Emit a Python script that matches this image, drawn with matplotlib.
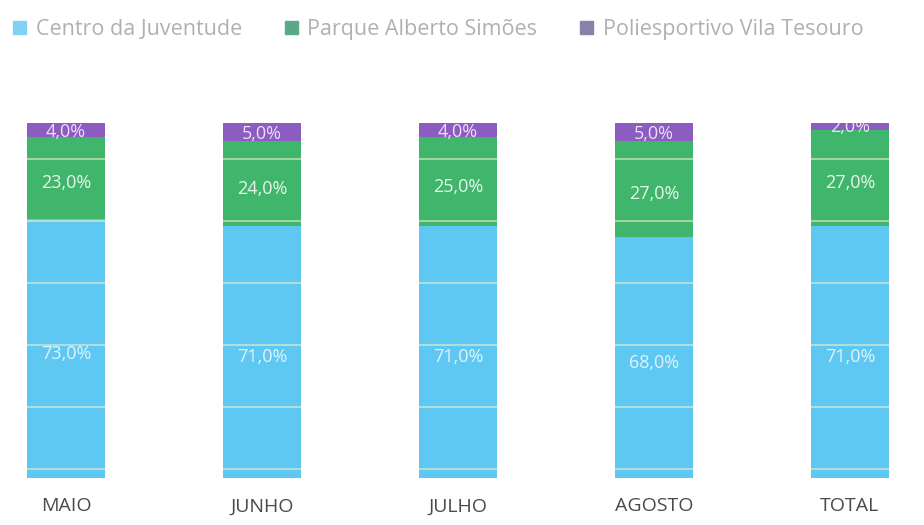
import numpy as np
import matplotlib.pyplot as plt
from matplotlib.patches import Patch

months = ["MAIO", "JUNHO", "JULHO", "AGOSTO", "TOTAL"]
series_names = ["Centro da Juventude", "Parque Alberto Simões", "Poliesportivo Vila Tesouro"]
centro = [73.0, 71.0, 71.0, 68.0, 71.0]
parque = [23.0, 24.0, 25.0, 27.0, 27.0]
poli = [4.0, 5.0, 4.0, 5.0, 2.0]

colors = ["#5ec8f3", "#3fb66c", "#8d5cc0"]
legend_colors = ["#7fd2f3", "#5aa886", "#8682a8"]
label_colors = ["#dff3fb", "#e6f6ea", "#e9e0f5"]


def fmt(v):
    return ("%.1f%%" % v).replace(".", ",")


def main(outfile):
    plt.rcParams["font.family"] = ["Open Sans", "DejaVu Sans"]
    fig = plt.figure(figsize=(9.24, 5.25), dpi=100)
    ax = fig.add_axes([0, 0.0895, 1, 0.676])
    x = np.arange(len(months))
    bottom = np.zeros(len(months))
    patches = []
    for vals, col, lcol in zip([centro, parque, poli], colors, label_colors):
        vals = np.array(vals)
        bars = ax.bar(x, vals, width=0.4, bottom=bottom, color=col, zorder=1)
        patches.extend(bars.patches)
        for xi, b, v in zip(x, bottom, vals):
            yy = b + v / 2 - 1.5
            if v < 6:
                yy = b + v * 0.4
            ax.text(xi, yy, fmt(v), ha="center", va="center", color=lcol,
                    fontsize=13, zorder=3, clip_on=True)
        bottom = bottom + vals

    ax.set_xlim(-0.337, 4.378)
    ax.set_ylim(0, 100)
    grid_y = np.arange(2.5, 100, 17.5)
    # grid only visible across the bars
    for p in patches:
        for gy in grid_y:
            ln = ax.axhline(gy, color="#f6f2c8", alpha=0.6, linewidth=1.3, zorder=2)
            ln.set_clip_path(p)
    ax.set_yticks([])
    ax.set_xticks(x)
    ax.set_xticklabels(months, fontsize=14, color="#4a4a4a")
    ax.tick_params(axis="x", length=0, pad=14)
    for s in ax.spines.values():
        s.set_visible(False)

    handles = [Patch(color=c) for c in legend_colors]
    fig.legend(handles, series_names, loc="upper left", bbox_to_anchor=(0.0, 0.988),
               ncol=3, frameon=False, fontsize=15.5, labelcolor="#b0b0b0",
               handlelength=0.6, handleheight=0.6, handletextpad=0.45,
               columnspacing=2.0, borderaxespad=0.2)
    fig.savefig(outfile, dpi=100)


if __name__ == "__main__":
    main("out.png")
